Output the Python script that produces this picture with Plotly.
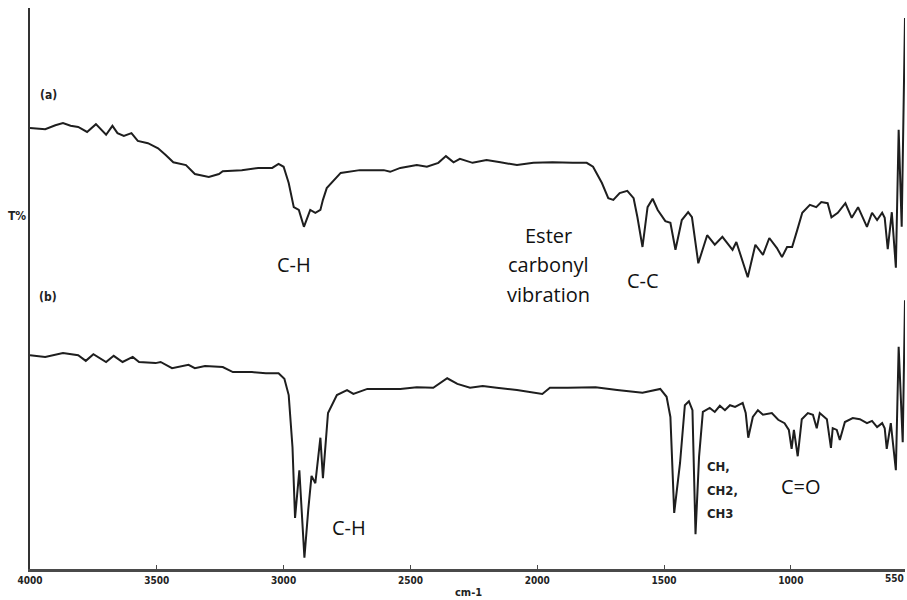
import plotly.graph_objects as go

# ---- data (wavenumber cm-1, transmittance in arbitrary T% units) ----
wn_a = [4000, 3940, 3900, 3870, 3840, 3810, 3775, 3740, 3700, 3675, 3655, 3630, 3600, 3575,
        3535, 3495, 3465, 3435, 3385, 3350, 3295, 3255, 3240, 3165, 3100, 3045, 3020, 3000,
        2980, 2960, 2940, 2920, 2895, 2875, 2855, 2845, 2830, 2775, 2700, 2605, 2580, 2540,
        2475, 2435, 2390, 2360, 2330, 2305, 2255, 2200, 2145, 2080, 2015, 1940, 1860, 1805,
        1780, 1745, 1720, 1700, 1675, 1645, 1620, 1605, 1585, 1565, 1545, 1525, 1495, 1475,
        1455, 1430, 1405, 1390, 1365, 1330, 1300, 1270, 1230, 1215, 1170, 1140, 1110, 1085,
        1055, 1035, 1015, 995, 975, 955, 925, 900, 880, 855, 840, 815, 785, 760, 735, 700,
        680, 660, 640, 630, 618, 602, 586, 575, 563, 550]
t_a = [78.6, 78.4, 79.1, 79.5, 79.0, 78.8, 77.9, 79.3, 77.4, 79.0, 77.7, 77.2, 77.7, 76.3,
       75.9, 75.0, 73.8, 72.5, 72.0, 70.4, 69.9, 70.4, 70.9, 71.1, 71.5, 71.5, 72.2, 71.7,
       68.8, 64.5, 64.0, 61.0, 64.0, 63.5, 64.0, 65.8, 67.9, 70.6, 71.1, 71.1, 70.8, 71.5,
       72.0, 71.7, 72.4, 73.6, 72.5, 73.1, 72.4, 72.9, 72.5, 72.0, 72.4, 72.5, 72.4, 72.4,
       71.7, 68.8, 66.1, 65.8, 67.0, 67.4, 66.1, 62.7, 57.4, 64.5, 66.0, 64.0, 62.0, 61.7,
       56.9, 62.2, 63.6, 62.7, 54.5, 59.5, 57.8, 59.2, 56.9, 58.3, 52.0, 57.8, 56.0, 59.0,
       57.2, 55.6, 57.4, 57.4, 60.4, 63.5, 64.9, 64.5, 65.4, 65.2, 62.7, 63.5, 65.2, 62.6,
       64.5, 61.0, 63.5, 62.2, 63.5, 62.6, 57.0, 63.6, 53.7, 78.3, 61.0, 98.2]

wn_b = [4000, 3940, 3870, 3810, 3780, 3750, 3700, 3670, 3635, 3595, 3570, 3505, 3485, 3440,
        3375, 3350, 3310, 3240, 3200, 3125, 3070, 3020, 2997, 2980, 2965, 2955, 2938, 2918,
        2903, 2890, 2875, 2855, 2845, 2825, 2790, 2750, 2725, 2670, 2605, 2540, 2475, 2410,
        2355, 2315, 2265, 2215, 2160, 2080, 1980, 1950, 1880, 1770, 1685, 1585, 1515, 1490,
        1475, 1460, 1437, 1418, 1402, 1388, 1376, 1362, 1347, 1320, 1300, 1280, 1260, 1240,
        1220, 1190, 1178, 1168, 1150, 1130, 1110, 1075, 1050, 1025, 1008, 997, 988, 973, 957,
        933, 913, 898, 886, 858, 842, 835, 819, 807, 787, 756, 728, 700, 680, 660, 640, 630,
        622, 606, 586, 575, 559, 550]
t_b = [38.1, 37.8, 38.5, 38.1, 37.1, 38.3, 36.9, 38.0, 36.9, 37.8, 36.9, 36.7, 36.9, 35.8,
       36.4, 35.8, 36.2, 36.0, 35.1, 35.1, 34.9, 34.9, 33.9, 31.0, 21.7, 9.1, 17.6, 2.0,
       10.5, 16.6, 15.3, 23.4, 16.2, 27.8, 31.0, 31.9, 31.2, 32.1, 32.1, 32.1, 32.4, 32.3,
       34.0, 33.0, 32.3, 32.6, 32.3, 31.9, 31.2, 32.3, 32.3, 32.4, 31.9, 31.4, 32.1, 30.7,
       27.1, 10.0, 18.9, 29.2, 29.9, 28.3, 6.2, 20.0, 28.0, 28.7, 28.0, 29.1, 28.3, 29.2,
       28.9, 29.6, 27.8, 23.4, 27.1, 28.3, 27.5, 27.8, 26.6, 26.0, 24.8, 21.4, 24.8, 20.1,
       26.7, 27.8, 27.5, 25.1, 27.8, 26.7, 21.6, 25.1, 24.8, 23.0, 26.2, 26.9, 26.7, 26.0,
       26.4, 25.3, 26.0, 25.1, 21.4, 26.0, 17.6, 39.6, 22.6, 47.9]

tick_vals = [4000, 3500, 3000, 2500, 2000, 1500, 1000, 550]
tick_text = ["4000", "3500", "3000", "2500", "2000", "1500", "1000", "550"]

# ---- figure ----
L, R, T, B = 30, 2, 8, 31
W, H = 907, 600
pw, ph = W - L - R, H - T - B


def px(x):
    return (x - L) / pw


def py(y):
    return (H - B - y) / ph


line_style = dict(color="#1e1e1e", width=2)
fig = go.Figure()
fig.add_trace(go.Scatter(x=wn_a, y=t_a, mode="lines", line=line_style, showlegend=False))
fig.add_trace(go.Scatter(x=wn_b, y=t_b, mode="lines", line=line_style, showlegend=False))

narrow = "Liberation Sans Narrow, DejaVu Sans Condensed, sans-serif"
label_font = dict(family="Open Sans, sans-serif", size=20, color="#111")
small_font = dict(family=narrow, size=13, color="#222", weight="bold")
tick_font = dict(family=narrow, size=10, color="#222", weight="bold")

annos = [
    ("(a)", 48, 95, dict(family=narrow, size=12, color="#222", weight="bold")),
    ("(b)", 48, 297, dict(family=narrow, size=12, color="#222", weight="bold")),
    ("T%", 17, 216, dict(family=narrow, size=12, color="#222", weight="bold")),
    ("cm-1", 469, 592, dict(family=narrow, size=11, color="#222", weight="bold")),
    ("C-H", 294, 264, label_font),
    ("Ester", 548, 236, label_font),
    ("carbonyl", 548, 264, label_font),
    ("vibration", 548, 294, label_font),
    ("C-C", 643, 281, label_font),
    ("C-H", 349, 527, label_font),
    ("C=O", 801, 487, label_font),
]
for text, x, y, f in annos:
    fig.add_annotation(text=text, x=px(x), y=py(y), xref="paper", yref="paper",
                       showarrow=False, font=f, xanchor="center", yanchor="middle")

for text, y in [("CH,", 466), ("CH2,", 490), ("CH3", 513)]:
    fig.add_annotation(text=text, x=px(705), y=py(y), xref="paper", yref="paper",
                       showarrow=False, font=small_font, xanchor="left", yanchor="middle")

# last tick label sits at the right edge of the page; keep it fully inside
fig.add_annotation(text=tick_text[-1], x=px(906), xref="paper", y=py(578), yref="paper",
                   showarrow=False, font=tick_font, xanchor="right", yanchor="middle")

fig.update_layout(
    width=W, height=H,
    margin=dict(l=L, r=R, t=T, b=B),
    paper_bgcolor="white", plot_bgcolor="white",
    xaxis=dict(range=[4000, 550], tickvals=tick_vals,
               ticktext=tick_text[:-1] + [""],
               showline=True, linewidth=3, linecolor="#4a4a4a",
               ticks="inside", ticklen=4, tickcolor="#4a4a4a", tickwidth=1,
               showgrid=False, zeroline=False, tickfont=tick_font),
    yaxis=dict(range=[0, 100], showline=True, linewidth=2, linecolor="#333",
               showticklabels=False, ticks="", showgrid=False, zeroline=False),
)

fig.write_html("out.html")
